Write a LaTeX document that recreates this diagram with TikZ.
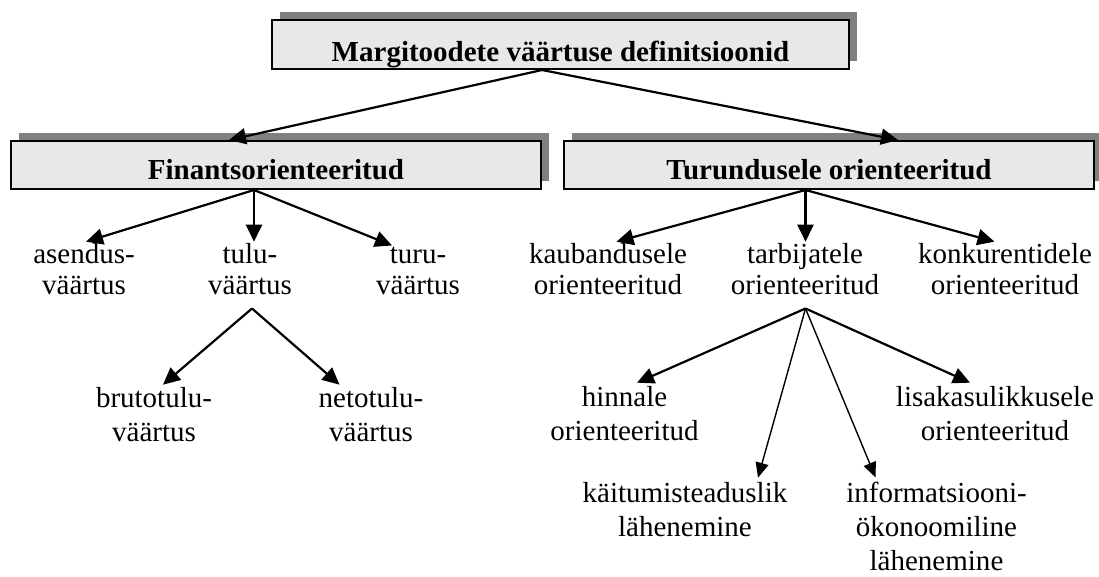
\documentclass[tikz,border=0pt]{standalone}
\usepackage{fontspec}
\setmainfont{Liberation Serif}
\usetikzlibrary{arrows.meta,shadows}
\definecolor{boxfill}{HTML}{E8E8E8}
\definecolor{shadowgray}{HTML}{808080}
\tikzset{
  box/.style={draw=black, line width=2pt, fill=boxfill, inner sep=0pt,
    text depth=0pt, font=\fontsize{29}{31}\selectfont\bfseries,
    copy shadow={shadow xshift=8pt, shadow yshift=8pt, fill=shadowgray, draw=none}},
  lbl/.style={align=center, inner sep=0pt, anchor=base, font=\fontsize{29}{31}\selectfont},
  lbll/.style={lbl, font=\fontsize{29}{34}\selectfont},
  arr/.style={-{Triangle[length=17pt,width=16pt]}, line width=2.2pt},
  thinarr/.style={-{Triangle[length=15pt,width=13pt]}, line width=1.4pt},
}
\begin{document}
\begin{tikzpicture}[x=1pt,y=-1pt]
\useasboundingbox (0,0) rectangle (1099,576);
% boxes
\node[box, minimum width=577pt, minimum height=49pt, text height=33pt] (top) at (560.5,44.5) {Margitoodete väärtuse definitsioonid};
\node[box, minimum width=530pt, minimum height=48pt, text height=28pt] (fin) at (276,165) {Finantsorienteeritud};
\node[box, minimum width=530pt, minimum height=48pt, text height=28pt] (tur) at (829,165) {Turundusele orienteeritud};
% upper labels (anchor = baseline of last line)
\node[lbl] (asendus) at (84,294) {asendus-\\väärtus};
\node[lbl] (tulu) at (250,294) {tulu-\\väärtus};
\node[lbl] (turu) at (418,294) {turu-\\väärtus};
\node[lbl] (kaub) at (608,294) {kaubandusele\\orienteeritud};
\node[lbl] (tarb) at (805,294) {tarbijatele\\orienteeritud};
\node[lbl] (konk) at (1005,294) {konkurentidele\\orienteeritud};
% lower labels
\node[lbll] (bruto) at (154,441) {brutotulu-\\väärtus};
\node[lbll] (neto) at (371,441) {netotulu-\\väärtus};
\node[lbll] (hinn) at (624.5,440) {hinnale\\orienteeritud};
\node[lbll] (lisa) at (995,440) {lisakasulikkusele\\orienteeritud};
\node[lbll] (kait) at (685,536) {käitumisteaduslik\\lähenemine};
\node[lbll] (info) at (936.5,570) {informatsiooni-\\ökonoomiline\\lähenemine};
% connectors
\draw[arr] ([xshift=-18.5pt]top.south) -- ([xshift=-47pt]fin.north);
\draw[arr] ([xshift=-18.5pt]top.south) -- ([xshift=69pt]tur.north);
\draw[arr] ([xshift=-22pt]fin.south) -- ([xshift=2pt,yshift=1pt]asendus.north);
\draw[arr] ([xshift=-22pt]fin.south) -- ([xshift=4pt,yshift=1pt]tulu.north);
\draw[arr] ([xshift=-22pt]fin.south) -- ([xshift=-26pt,yshift=1pt]turu.north);
\draw[arr] ([xshift=-23.5pt]tur.south) -- ([xshift=8.5pt,yshift=1pt]kaub.north);
\draw[arr] ([xshift=-23.5pt]tur.south) -- ([xshift=0.5pt,yshift=1pt]tarb.north);
\draw[arr] ([xshift=-23.5pt]tur.south) -- ([xshift=-10.5pt,yshift=1pt]konk.north);
\draw[arr] ([xshift=2pt,yshift=-14pt]tulu.south) -- ([xshift=9pt,yshift=2pt]bruto.north);
\draw[arr] ([xshift=2pt,yshift=-14pt]tulu.south) -- ([xshift=-31.5pt,yshift=2pt]neto.north);
\draw[arr] ([xshift=0.5pt,yshift=-14pt]tarb.south) -- ([xshift=12.5pt,yshift=3pt]hinn.north);
\draw[thinarr] ([xshift=0.5pt,yshift=-14pt]tarb.south) -- ([xshift=73pt,yshift=4pt]kait.north);
\draw[thinarr] ([xshift=0.5pt,yshift=-14pt]tarb.south) -- ([xshift=-61pt,yshift=4pt]info.north);
\draw[arr] ([xshift=0.5pt,yshift=-14pt]tarb.south) -- ([xshift=-25pt,yshift=3pt]lisa.north);
\end{tikzpicture}
\end{document}
